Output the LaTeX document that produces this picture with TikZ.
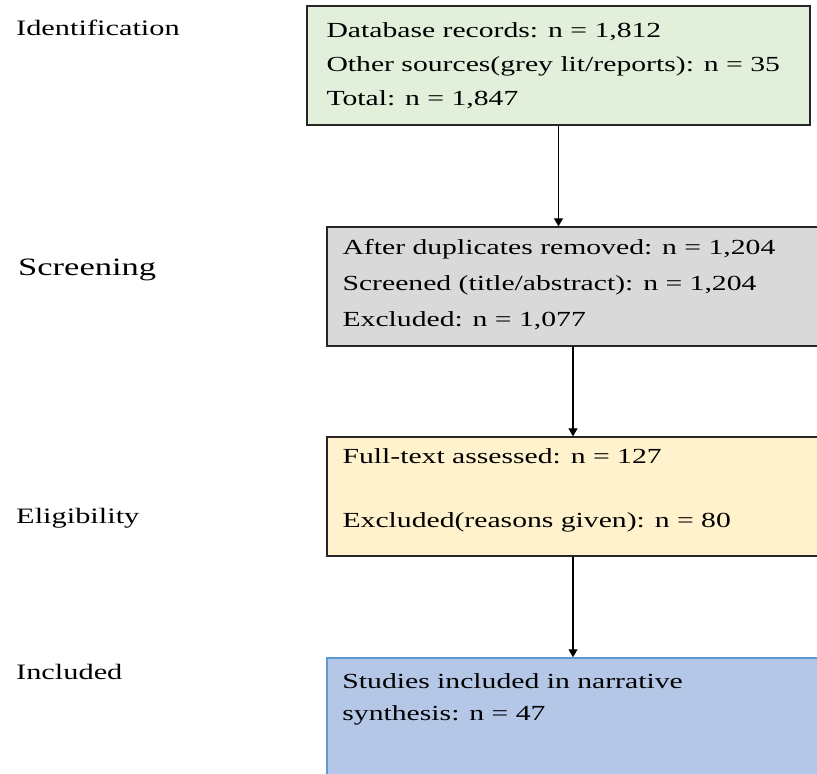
\documentclass[tikz,border=0pt]{standalone}
\usepackage{fontspec}
\setmainfont{Liberation Serif}[FakeStretch=1.38]
\usetikzlibrary{arrows.meta}
\definecolor{idfill}{HTML}{E2EFDA}
\definecolor{scrfill}{HTML}{D9D9D9}
\definecolor{eligfill}{HTML}{FFF2CC}
\definecolor{inclfill}{HTML}{B4C7E7}
\definecolor{incledge}{HTML}{5B9BD5}
\tikzset{
  stagebox/.style={draw=black!85, line width=1.3pt, minimum height=119pt, inner sep=0pt},
  boxtext/.style={anchor=west, inner sep=0pt, align=left, font=\fontsize{21.5}{36}\selectfont},
  lab/.style={anchor=west, inner sep=0pt, font=\fontsize{22}{26}\selectfont},
  flow/.style={-{Triangle[length=8pt,width=9pt]}, line width=1.1pt}
}
\begin{document}
\begin{tikzpicture}[x=1pt,y=-1pt]
\useasboundingbox (0,0) rectangle (817,774);
\node[lab] (idlab) at (16,28) {Identification};
\node[lab, font=\fontsize{25}{30}\selectfont] (scrlab) at (18,270) {Screening};
\node[lab] (eliglab) at (16,518) {Eligibility};
\node[lab] (incllab) at (16,672) {Included};
\node[stagebox, fill=idfill, minimum width=503pt] (idbox) at (558.5,65.5) {};
\node[stagebox, fill=scrfill, minimum width=492pt] (scrbox) at (573,286.5) {};
\node[stagebox, fill=eligfill, minimum width=492pt] (eligbox) at (573,496.5) {};
\node[stagebox, draw=incledge, line width=1.5pt, fill=inclfill, minimum width=492pt, minimum height=124pt] (inclbox) at (573,720) {};
\node[boxtext, font=\fontsize{21.5}{34}\selectfont] (idtext) at ([xshift=20pt]idbox.west) {Database records: n = 1,812\\Other sources(grey lit/reports): n = 35\\Total: n = 1,847};
\node[boxtext] (scrtext) at ([xshift=16pt,yshift=1.5pt]scrbox.west) {After duplicates removed: n = 1,204\\Screened (title/abstract): n = 1,204\\Excluded: n = 1,077};
\node[boxtext, font=\fontsize{21.5}{32}\selectfont] (eligtext) at ([xshift=16pt,yshift=6.5pt]eligbox.west) {Full-text assessed: n = 127\\[32pt]Excluded(reasons given): n = 80};
\node[boxtext, font=\fontsize{21.5}{32}\selectfont] (incltext) at ([xshift=16pt,yshift=21pt]inclbox.west) {Studies included in narrative\\synthesis: n = 47};
\draw[flow] (idbox.south) -- (idbox.south |- scrbox.north);
\draw[flow] (scrbox.south) -- (eligbox.north);
\draw[flow] (eligbox.south) -- (inclbox.north);
\end{tikzpicture}
\end{document}
